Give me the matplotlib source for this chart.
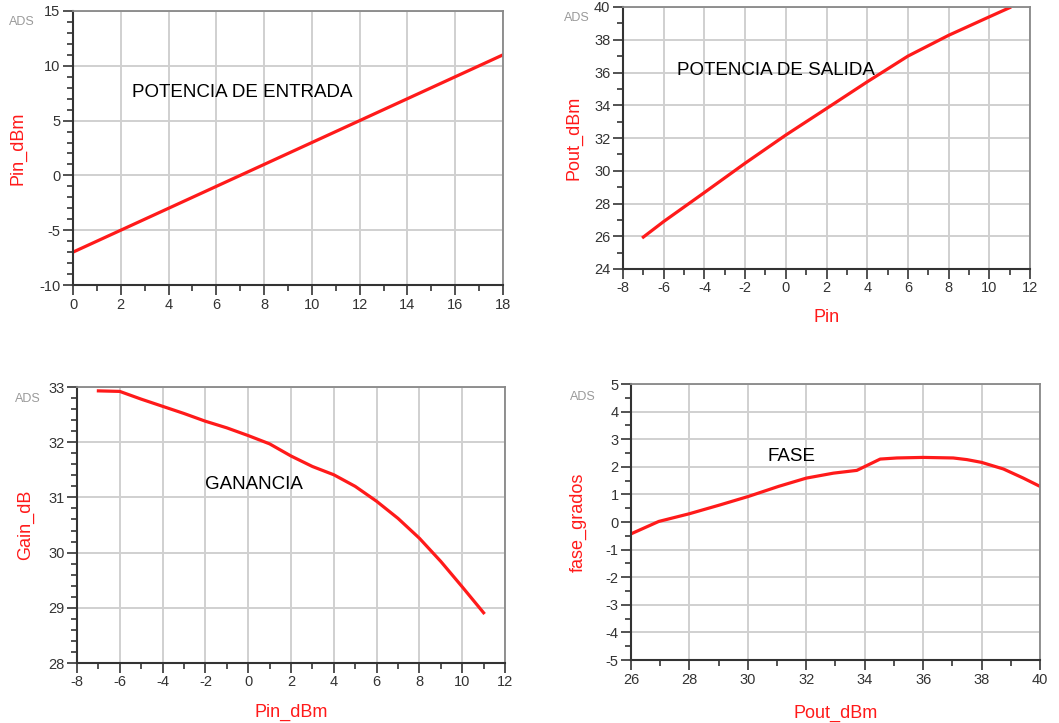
import numpy as np
import matplotlib
matplotlib.use('Agg')
import matplotlib.pyplot as plt
from matplotlib.ticker import MultipleLocator

plt.rcParams['font.family'] = ['Liberation Sans', 'DejaVu Sans']
plt.rcParams['axes.unicode_minus'] = False

# Potencia de entrada (Pin_dBm vs barrido)
barrido = [0, 2, 4, 6, 8, 10, 12, 14, 16, 18]
pin_dbm = [-7, -5, -3, -1, 1, 3, 5, 7, 9, 11]

# Potencia de salida vs Pin
pin = [-7, -6, -4, -2, 0, 2, 4, 6, 8, 10, 11]
pout_dbm = [25.95, 26.9, 28.67, 30.46, 32.18, 33.8, 35.43, 37.0, 38.27, 39.4, 39.96]

# Ganancia vs Pin
pin_g = [-7, -6, -5, -4, -3, -2, -1, 0, 1, 2, 3, 4, 5, 6, 7, 8, 9, 10, 11]
gain_db = [32.93, 32.92, 32.78, 32.65, 32.52, 32.38, 32.26, 32.12, 31.97, 31.75,
           31.56, 31.41, 31.2, 30.93, 30.62, 30.26, 29.84, 29.38, 28.91]

# Fase vs Pout
pout_f = [26.0, 26.95, 28.0, 29.05, 30.03, 31.05, 32.0, 32.93, 33.73, 34.53,
          35.1, 36.0, 37.03, 37.5, 38.0, 38.75, 39.43, 40.0]
fase_grados = [-0.43, 0.02, 0.30, 0.62, 0.93, 1.29, 1.59, 1.77, 1.87, 2.28,
               2.32, 2.34, 2.32, 2.26, 2.16, 1.92, 1.59, 1.29]

W, H = 1059, 723
fig = plt.figure(figsize=(W / 100, H / 100), dpi=100)


def px_axes(left, right, top, bottom):
    return fig.add_axes([left / W, (H - bottom) / H, (right - left) / W, (bottom - top) / H])


rojo = '#ff1a1a'
gris_tick = '#444444'


def estilo(ax, xlim, ylim, xmaj, xmin, ymaj, ymin):
    ax.set_xlim(*xlim)
    ax.set_ylim(*ylim)
    ax.xaxis.set_major_locator(MultipleLocator(xmaj))
    ax.xaxis.set_minor_locator(MultipleLocator(xmin))
    ax.yaxis.set_major_locator(MultipleLocator(ymaj))
    ax.yaxis.set_minor_locator(MultipleLocator(ymin))
    ax.grid(True, which='major', color='#d0d0d0', linewidth=1.4)
    ax.set_axisbelow(True)
    ax.tick_params(which='major', direction='out', length=7, width=1.3,
                   color=gris_tick, labelsize=10.5, labelcolor='#333333', pad=2)
    ax.tick_params(which='minor', direction='out', length=4, width=1.3, color=gris_tick)
    for s in ['left', 'bottom']:
        ax.spines[s].set_color('#333333')
        ax.spines[s].set_linewidth(1.5)
    for s in ['top', 'right']:
        ax.spines[s].set_color('#888888')
        ax.spines[s].set_linewidth(1.3)


def ads(ax, x, y):
    ax.text(x, y, 'ADS', transform=ax.transAxes, color='#9a9a9a', fontsize=9,
            ha='center', va='center')


# Panel 1
ax1 = px_axes(73, 503, 11, 285)
ax1.plot(barrido, pin_dbm, color=rojo, linewidth=2.3)
estilo(ax1, (0, 18), (-10, 15), 2, 1, 5, 1)
ax1.set_ylabel('Pin_dBm', color=rojo, fontsize=13)
ax1.yaxis.set_label_coords(-0.109, 0.5)
ax1.text(2.45, 7.6, 'POTENCIA DE ENTRADA', fontsize=13.5, va='center', ha='left')
ads(ax1, -0.119, 0.96)

# Panel 2
ax2 = px_axes(623, 1030, 7, 269)
ax2.plot(pin, pout_dbm, color=rojo, linewidth=2.3)
estilo(ax2, (-8, 12), (24, 40), 2, 1, 2, 1)
ax2.set_ylabel('Pout_dBm', color=rojo, fontsize=13)
ax2.yaxis.set_label_coords(-0.10, 0.5)
ax2.set_xlabel('Pin', color=rojo, fontsize=13)
ax2.xaxis.set_label_coords(0.5, -0.153)
ax2.text(-5.35, 36.1, 'POTENCIA DE SALIDA', fontsize=13.5, va='center', ha='left')
ads(ax2, -0.113, 0.958)

# Panel 3
ax3 = px_axes(77, 505, 387, 663)
ax3.plot(pin_g, gain_db, color=rojo, linewidth=2.3)
estilo(ax3, (-8, 12), (28, 33), 2, 1, 1, 0.2)
ax3.set_ylabel('Gain_dB', color=rojo, fontsize=13)
ax3.yaxis.set_label_coords(-0.10, 0.5)
ax3.set_xlabel('Pin_dBm', color=rojo, fontsize=13)
ax3.xaxis.set_label_coords(0.5, -0.149)
ax3.text(-2.0, 31.24, 'GANANCIA', fontsize=13.5, va='center', ha='left')
ads(ax3, -0.114, 0.957)

# Panel 4
ax4 = px_axes(631, 1040, 384, 660)
ax4.plot(pout_f, fase_grados, color=rojo, linewidth=2.3)
estilo(ax4, (26, 40), (-5, 5), 2, 1, 1, 0.5)
ax4.set_ylabel('fase_grados', color=rojo, fontsize=13)
ax4.yaxis.set_label_coords(-0.108, 0.5)
ax4.set_xlabel('Pout_dBm', color=rojo, fontsize=13)
ax4.xaxis.set_label_coords(0.5, -0.163)
ax4.text(30.66, 2.39, 'FASE', fontsize=13.5, va='center', ha='left')
ads(ax4, -0.117, 0.953)

fig.savefig('out.png', dpi=100)
